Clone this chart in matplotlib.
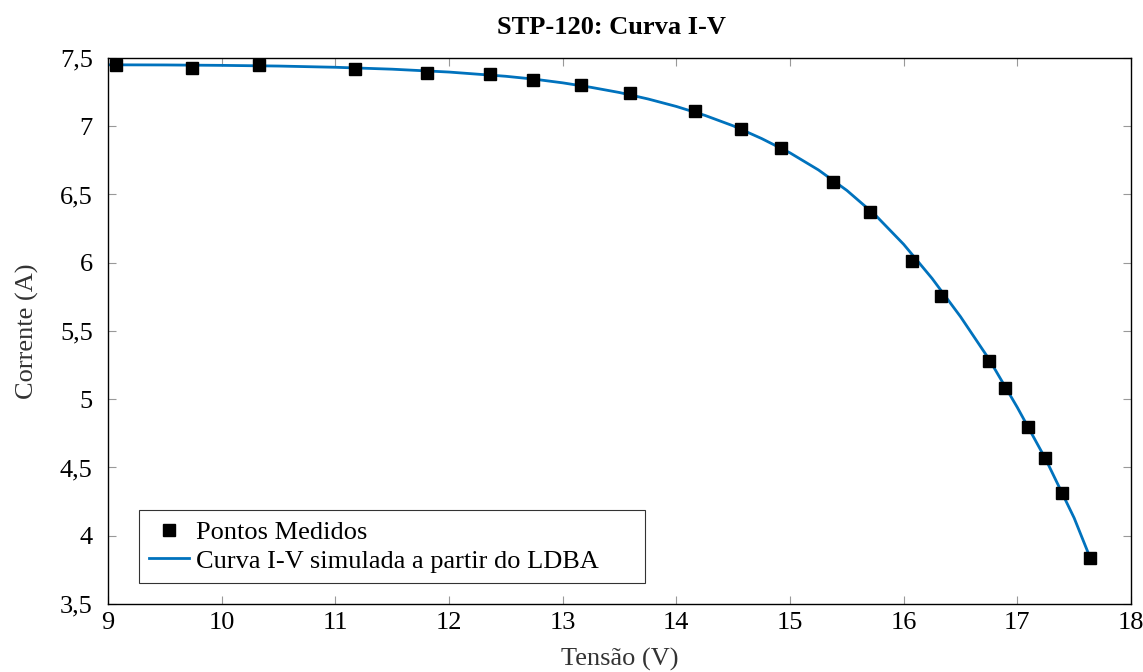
import matplotlib
matplotlib.use("Agg")
import matplotlib.pyplot as plt
from matplotlib.ticker import FuncFormatter, MultipleLocator

v_medido = [9.07, 9.74, 10.33, 11.17, 11.81, 12.36, 12.74, 13.16, 13.59,
            14.16, 14.57, 14.92, 15.38, 15.70, 16.07, 16.33, 16.75, 16.89,
            17.09, 17.24, 17.39, 17.64]
i_medido = [7.45, 7.43, 7.45, 7.42, 7.39, 7.38, 7.34, 7.30, 7.24,
            7.11, 6.98, 6.84, 6.59, 6.37, 6.01, 5.76, 5.28, 5.08,
            4.80, 4.57, 4.31, 3.84]

# simulated I-V curve (sampled from the figure)
v_sim = [9.0, 9.5, 10.0, 10.5, 11.0, 11.5, 12.0, 12.5, 12.75, 13.0, 13.25,
         13.5, 13.75, 14.0, 14.25, 14.5, 14.75, 15.0, 15.25, 15.5, 15.75,
         16.0, 16.25, 16.5, 16.75, 17.0, 17.25, 17.5, 17.64]
i_sim = [7.450, 7.449, 7.446, 7.441, 7.432, 7.418, 7.397, 7.366, 7.345,
         7.318, 7.285, 7.247, 7.200, 7.145, 7.080, 7.003, 6.910, 6.805,
         6.680, 6.530, 6.350, 6.135, 5.885, 5.605, 5.295, 4.940, 4.560,
         4.130, 3.840]

plt.rcParams["font.family"] = ["Liberation Serif", "DejaVu Serif"]

fig = plt.figure(figsize=(11.43, 6.72), dpi=100)
ax = fig.add_axes([0.0945, 0.1012, 0.8950, 0.8125])

ax.plot(v_medido, i_medido, "s", color="black", markersize=8.5,
        label="Pontos Medidos", zorder=3)
ax.plot(v_sim, i_sim, "-", color="#0072BD", linewidth=2.0,
        label="Curva I-V simulada a partir do LDBA", zorder=2)

ax.set_xlim(9, 18)
ax.set_ylim(3.5, 7.5)
ax.xaxis.set_major_locator(MultipleLocator(1))
ax.yaxis.set_major_locator(MultipleLocator(0.5))
comma = FuncFormatter(lambda v, p: f"{v:g}".replace(".", ","))
ax.xaxis.set_major_formatter(comma)
ax.yaxis.set_major_formatter(comma)

ax.tick_params(direction="in", length=6, width=0.8, color="#999999",
               top=True, right=True, labelsize=19)
ax.tick_params(axis="x", pad=6)
ax.tick_params(axis="y", pad=11)
for s in ax.spines.values():
    s.set_linewidth(1.0)

ax.set_title("STP-120: Curva I-V", fontsize=19, fontweight="bold", pad=17,
             x=0.4917)
ax.set_xlabel("Tensão (V)", fontsize=19, color="#333333", labelpad=10)
ax.set_ylabel("Corrente (A)", fontsize=19, color="#333333", labelpad=15)

leg = ax.legend(loc="lower left", bbox_to_anchor=(0.030, 0.038, 0.4946, 0.1),
                mode="expand", fontsize=19, frameon=True, fancybox=False,
                edgecolor="black", borderpad=0.4, handlelength=1.5,
                handletextpad=0.27, labelspacing=0.2, borderaxespad=0)
leg.get_frame().set_linewidth(0.8)

fig.savefig("out.png", dpi=100)
